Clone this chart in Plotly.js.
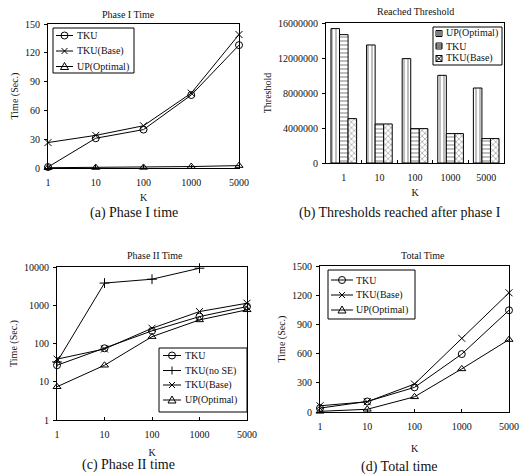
<!DOCTYPE html>
<html><head><meta charset="utf-8">
<script src="https://cdn.plot.ly/plotly-3.0.1.min.js"></script>
<style>html,body{margin:0;padding:0;background:#fff}#chart{width:527px;height:474px}</style>
</head><body><div id="chart"></div>
<script>
// ---- data ----
const K = ['1', '10', '100', '1000', '5000'];
const K_noSE = ['1', '10', '100', '1000'];

// (a) Phase I time
const p1_TKU = [1, 31, 40, 76, 128];
const p1_TKUBase = [26.5, 34, 44, 78, 139];
const p1_UP = [0.3, 0.5, 0.6, 1.5, 2.5];

// (b) Reached threshold
const th_UP = [15360000, 13490000, 11930000, 10020000, 8570000];
const th_TKU = [14670000, 4460000, 3930000, 3360000, 2790000];
const th_TKUBase = [5070000, 4460000, 3930000, 3360000, 2790000];

// (c) Phase II time
const p2_TKU = [27, 75, 214, 505, 925];
const p2_TKUnoSE = [33, 3800, 4800, 9300];
const p2_TKUBase = [39, 72, 250, 684, 1130];
const p2_UP = [7.4, 27, 151, 414, 760];

// (d) Total time
const tt_TKU = [40, 108, 253, 595, 1045];
const tt_TKUBase = [64, 105, 287, 757, 1225];
const tt_UP = [7, 28, 156, 443, 744];

// ---- layout helpers ----
const W = 527, H = 474;
const FONT = '"Liberation Serif", "Times New Roman", serif';
const TXT = '#111';
const px = v => v / W;
const py = v => 1 - v / H;
const P = (x, y) => px(x) + ',' + py(y);

function lineTrace(x, y, name, sym, xa, ya) {
  return {x: x, y: y, name: name, type: 'scatter', mode: 'lines+markers',
    xaxis: xa, yaxis: ya, cliponaxis: false, showlegend: false,
    line: {color: 'black', width: 1},
    marker: {symbol: sym, size: 7, color: 'black', line: {color: 'black', width: 1}}};
}
const PAT = {'|': {shape: '|'}, '-': {shape: '-'}, 'x': {shape: 'x'}};
function barTrace(x, y, name, shape) {
  return {x: x, y: y, name: name, type: 'bar', xaxis: 'x2', yaxis: 'y2', showlegend: false,
    marker: {color: 'white', line: {color: 'black', width: 1},
      pattern: {shape: shape, fgcolor: 'black', bgcolor: 'white', size: 4, solidity: 0.25, fillmode: 'overlay'}}};
}

const traces = [
  lineTrace(K, p1_TKU, 'TKU', 'circle-open', 'x', 'y'),
  lineTrace(K, p1_TKUBase, 'TKU(Base)', 'x-thin-open', 'x', 'y'),
  lineTrace(K, p1_UP, 'UP(Optimal)', 'triangle-up-open', 'x', 'y'),
  barTrace(K, th_UP, 'UP(Optimal)', '|'),
  barTrace(K, th_TKU, 'TKU', '-'),
  barTrace(K, th_TKUBase, 'TKU(Base)', 'x'),
  lineTrace(K, p2_TKU, 'TKU', 'circle-open', 'x3', 'y3'),
  lineTrace(K_noSE, p2_TKUnoSE, 'TKU(no SE)', 'cross-thin-open', 'x3', 'y3'),
  lineTrace(K, p2_TKUBase, 'TKU(Base)', 'x-thin-open', 'x3', 'y3'),
  lineTrace(K, p2_UP, 'UP(Optimal)', 'triangle-up-open', 'x3', 'y3'),
  lineTrace(K, tt_TKU, 'TKU', 'circle-open', 'x4', 'y4'),
  lineTrace(K, tt_TKUBase, 'TKU(Base)', 'x-thin-open', 'x4', 'y4'),
  lineTrace(K, tt_UP, 'UP(Optimal)', 'triangle-up-open', 'x4', 'y4')
];

const tickFont = {family: FONT, size: 10, color: TXT};
function xax(l, r, anchor, standoff, extra) {
  return Object.assign({domain: [px(l), px(r)], anchor: anchor, type: 'category',
    showline: true, mirror: true, linecolor: 'black', linewidth: 1, showgrid: false, zeroline: false,
    ticks: 'inside', ticklen: 3, tickcolor: 'black', tickfont: tickFont, ticklabelstandoff: 5,
    title: {text: 'K', font: {family: FONT, size: 10, color: TXT}, standoff: standoff}}, extra || {});
}
function yax(t, b, anchor, title, extra) {
  return Object.assign({domain: [py(b), py(t)], anchor: anchor,
    showline: true, mirror: true, linecolor: 'black', linewidth: 1, showgrid: false, zeroline: false,
    ticks: 'outside', ticklen: 3, tickcolor: 'black', tickfont: tickFont, ticklabelstandoff: 2,
    title: {text: title, font: {family: FONT, size: 10, color: TXT}, standoff: 4}}, extra || {});
}
function ann(text, x, y, size, anchor) {
  return {text: text, x: px(x), y: py(y), xref: 'paper', yref: 'paper', showarrow: false,
    xanchor: anchor || 'center', yanchor: 'middle', font: {family: FONT, size: size, color: TXT}};
}

// ---- hand-made compact legends (Excel style) ----
const shapes = [], annotations = [];
function box(x0, y0, x1, y1) {
  shapes.push({type: 'rect', xref: 'paper', yref: 'paper', x0: px(x0), x1: px(x1), y0: py(y1), y1: py(y0),
    line: {color: 'black', width: 1}, fillcolor: 'white', layer: 'above'});
}
function path(d, fill) {
  shapes.push({type: 'path', xref: 'paper', yref: 'paper', path: d,
    line: {color: 'black', width: 1}, fillcolor: fill || 'rgba(0,0,0,0)', layer: 'above'});
}
function symbol(sym, cx, cy) {
  const r = 3.5;
  if (sym === 'circle-open') {
    shapes.push({type: 'circle', xref: 'paper', yref: 'paper', x0: px(cx - r), x1: px(cx + r),
      y0: py(cy + r), y1: py(cy - r), line: {color: 'black', width: 1}, layer: 'above'});
  } else if (sym === 'x-thin-open') {
    path(`M${P(cx - 3, cy - 3)}L${P(cx + 3, cy + 3)}M${P(cx - 3, cy + 3)}L${P(cx + 3, cy - 3)}`);
  } else if (sym === 'cross-thin-open') {
    path(`M${P(cx - 4, cy)}L${P(cx + 4, cy)}M${P(cx, cy - 4)}L${P(cx, cy + 4)}`);
  } else if (sym === 'triangle-up-open') {
    path(`M${P(cx, cy - 4)}L${P(cx + 4, cy + 3)}L${P(cx - 4, cy + 3)}Z`);
  }
}
function lineLegend(traceList, x0, y0, x1, y1, rows, lineX0, lineX1, textX) {
  box(x0, y0, x1, y1);
  traceList.forEach((t, i) => {
    const cy = rows[i];
    path(`M${P(lineX0, cy)}L${P(lineX1, cy)}`);
    symbol(t.marker.symbol, (lineX0 + lineX1) / 2, cy);
    annotations.push(ann(t.name, textX, cy, 10, 'left'));
  });
}
function barLegend(traceList, x0, y0, x1, y1, rows, sqX, textX) {
  box(x0, y0, x1, y1);
  traceList.forEach((t, i) => {
    const cy = rows[i], s = 3, a = sqX - s, b = sqX + s, top = cy - s, bot = cy + s;
    path(`M${P(a, top)}L${P(b, top)}L${P(b, bot)}L${P(a, bot)}Z`, 'white');
    const sh = t.marker.pattern.shape;
    if (sh === '|') path(`M${P(sqX - 1, top)}L${P(sqX - 1, bot)}M${P(sqX + 1, top)}L${P(sqX + 1, bot)}`);
    else if (sh === '-') path(`M${P(a, cy - 1)}L${P(b, cy - 1)}M${P(a, cy + 1)}L${P(b, cy + 1)}`);
    else path(`M${P(a, top)}L${P(b, bot)}M${P(a, bot)}L${P(b, top)}`);
    annotations.push(ann(t.name, textX, cy, 10, 'left'));
  });
}
lineLegend(traces.slice(0, 3), 53, 28, 134, 73, [35.5, 51, 66.5], 56, 73, 75);
barLegend(traces.slice(3, 6), 433, 27, 502, 65, [33.5, 46, 58.5], 439, 444);
lineLegend(traces.slice(6, 10), 159, 348, 247, 412, [355.5, 370.5, 385, 400], 163, 181, 183);
lineLegend(traces.slice(10, 13), 328, 270, 415, 319, [280, 295, 310], 331, 353, 354);

annotations.push(
  ann('Phase I Time', 128, 15, 10),
  ann('Reached Threshold', 415, 11, 10),
  ann('Phase II Time', 155, 256, 10),
  ann('Total Time', 423, 256, 10),
  ann('(a) Phase I time', 134, 213, 14),
  ann('(b) Thresholds reached after phase I', 400, 213, 14),
  ann('(c) Phase II time', 128, 465, 14),
  ann('(d) Total time', 399, 467, 14)
);

const layout = {
  width: W, height: H, margin: {l: 0, r: 0, t: 0, b: 0},
  paper_bgcolor: 'white', plot_bgcolor: 'white', showlegend: false,
  bargap: 0.28, bargroupgap: 0, barmode: 'group',
  xaxis: xax(48, 239, 'y', 6, {range: [0, 4]}),
  yaxis: yax(24, 168, 'x', 'Time (Sec.)', {range: [0, 150], dtick: 30}),
  xaxis2: xax(326, 504, 'y2', 6, {tickson: 'boundaries'}),
  yaxis2: yax(23, 163, 'x2', 'Threshold', {range: [0, 16000000], dtick: 4000000, tickformat: 'd'}),
  xaxis3: xax(57, 247, 'y3', 9, {range: [0, 4]}),
  yaxis3: yax(267, 420, 'x3', 'Time (Sec.)', {type: 'log', range: [0, 4], tickvals: [1, 10, 100, 1000, 10000], ticktext: ['1', '10', '100', '1000', '10000']}),
  xaxis4: xax(320, 509, 'y4', 13, {range: [0, 4]}),
  yaxis4: yax(266, 412, 'x4', 'Time (Sec.)', {range: [0, 1500], dtick: 300}),
  shapes: shapes,
  annotations: annotations
};

Plotly.newPlot('chart', traces, layout, {staticPlot: true, displayModeBar: false});
</script></body></html>
